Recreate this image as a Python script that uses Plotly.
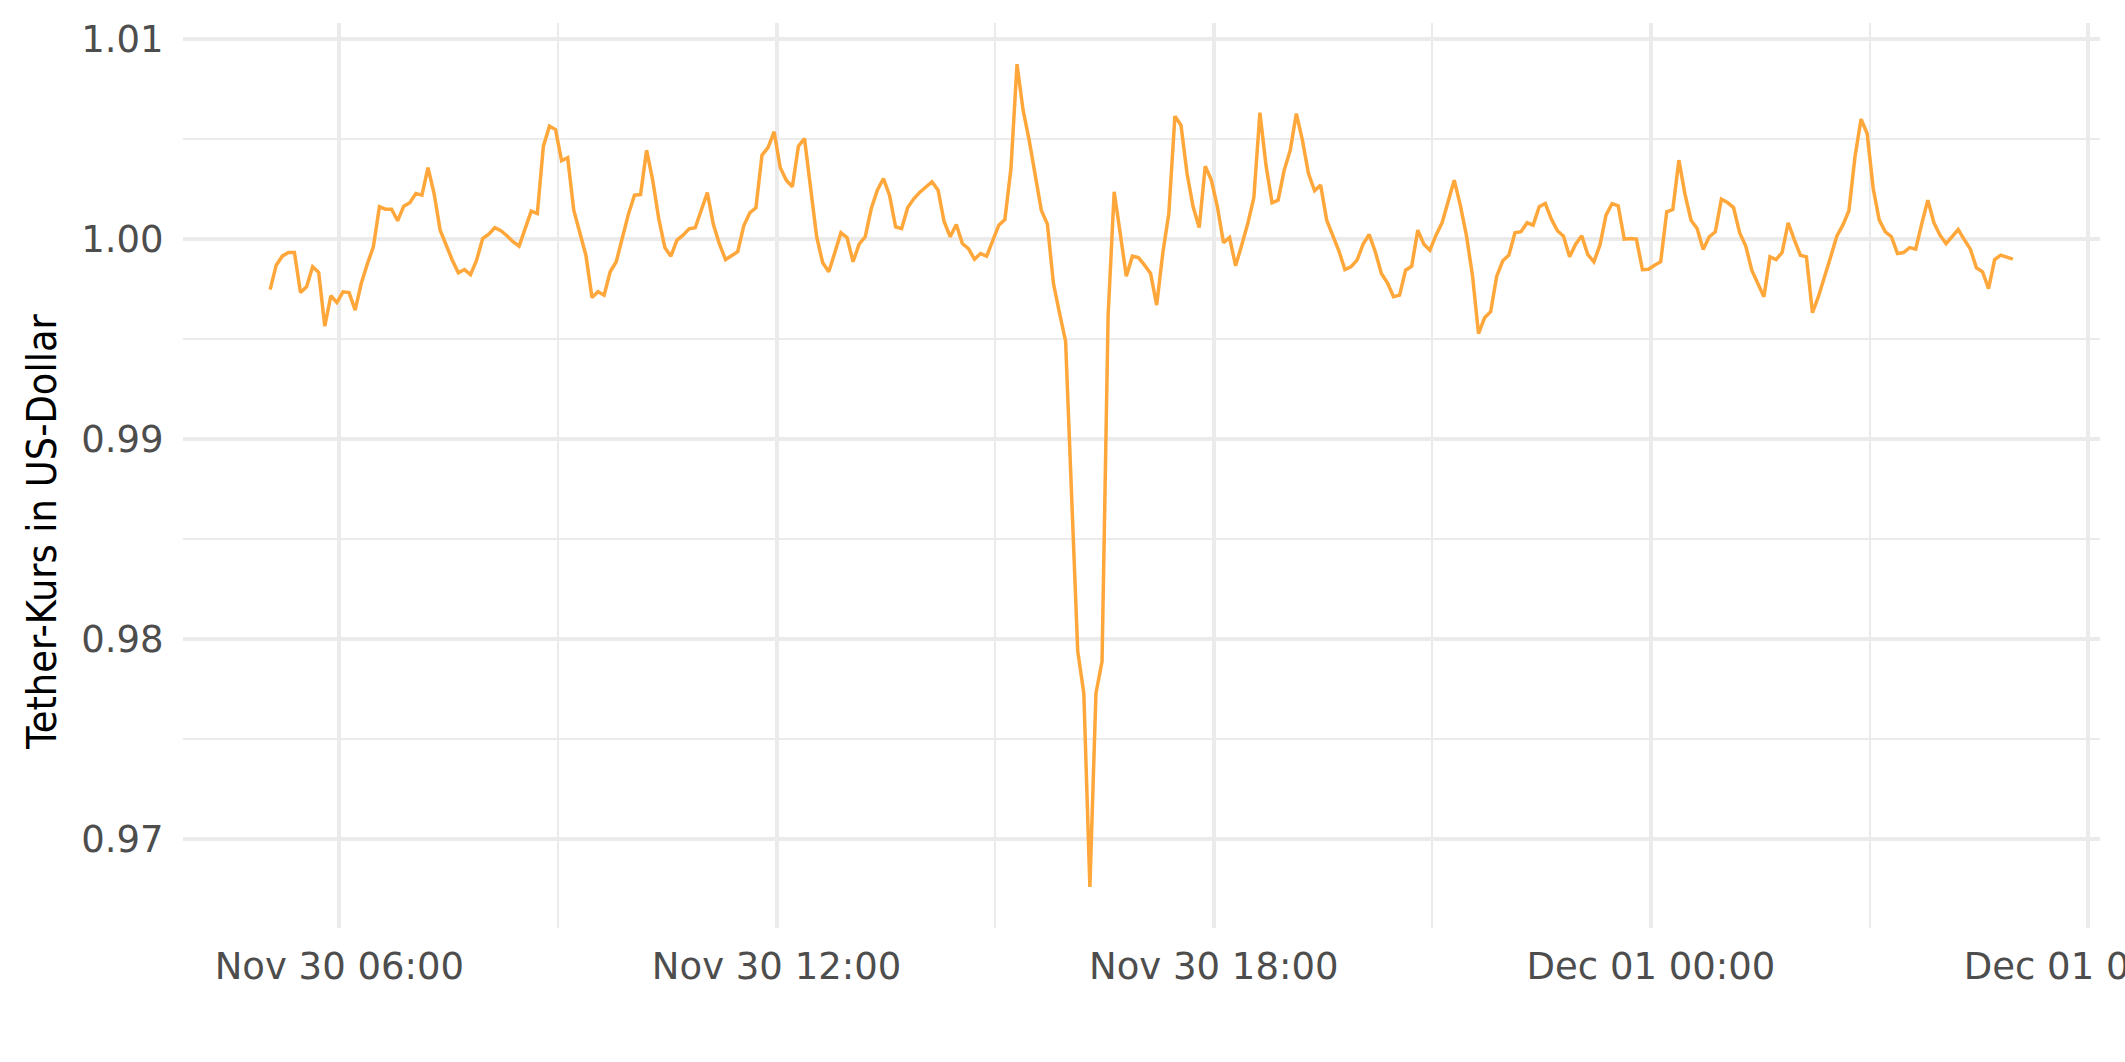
import pandas as pd
import plotly.graph_objects as go

# Tether price in USD, 5-minute samples, starting Nov 30 05:03 (4-hour blocks)
start_time = "2022-11-30 05:03"
step = "5min"

block_1 = [0.99748, 0.99870, 0.99915, 0.99933, 0.99933, 0.99733, 0.99762, 0.99862, 0.99833, 0.99565,
           0.99717, 0.99683, 0.99737, 0.99733, 0.99645, 0.99778, 0.99875, 0.99962, 1.00162, 1.00150,
           1.00150, 1.00092, 1.00165, 1.00182, 1.00228, 1.00220, 1.00358, 1.00228, 1.00045, 0.99970,
           0.99895, 0.99832, 0.99848, 0.99823, 0.99895, 1.00003, 1.00025, 1.00057, 1.00042, 1.00017,
           0.99987, 0.99965, 1.00048, 1.00140, 1.00128, 1.00465, 1.00565, 1.00548]
block_2 = [1.00392, 1.00407, 1.00145, 1.00037, 0.99920, 0.99708, 0.99737, 0.99720, 0.99837, 0.99887,
           1.00012, 1.00125, 1.00220, 1.00223, 1.00445, 1.00295, 1.00103, 0.99958, 0.99915, 0.99995,
           1.00020, 1.00052, 1.00057, 1.00150, 1.00233, 1.00073, 0.99975, 0.99898, 0.99917, 0.99937,
           1.00067, 1.00132, 1.00157, 1.00420, 1.00458, 1.00537, 1.00358, 1.00295, 1.00262, 1.00465,
           1.00503, 1.00262, 1.00012, 0.99882, 0.99837, 0.99933, 1.00032, 1.00008]
block_3 = [0.99887, 0.99975, 1.00012, 1.00153, 1.00245, 1.00303, 1.00220, 1.00062, 1.00053, 1.00158,
           1.00202, 1.00235, 1.00262, 1.00287, 1.00245, 1.00087, 1.00012, 1.00073, 0.99978, 0.99953,
           0.99900, 0.99928, 0.99915, 0.99995, 1.00070, 1.00098, 1.00353, 1.00875, 1.00645, 1.00495,
           1.00328, 1.00145, 1.00075, 0.99778, 0.99630, 0.99490, 0.98710, 0.97940, 0.97730, 0.96762,
           0.97730, 0.97888, 0.99617, 1.00237, 1.00028, 0.99815, 0.99915, 0.99908]
block_4 = [0.99870, 0.99828, 0.99670, 0.99928, 1.00128, 1.00615, 1.00570, 1.00328, 1.00162, 1.00058,
           1.00365, 1.00295, 1.00162, 0.99982, 1.00008, 0.99867, 0.99970, 1.00078, 1.00207, 1.00632,
           1.00370, 1.00182, 1.00195, 1.00345, 1.00445, 1.00628, 1.00495, 1.00328, 1.00242, 1.00270,
           1.00095, 1.00017, 0.99942, 0.99848, 0.99862, 0.99895, 0.99975, 1.00023, 0.99937, 0.99828,
           0.99782, 0.99712, 0.99720, 0.99845, 0.99865, 1.00045, 0.99975, 0.99945]
block_5 = [1.00020, 1.00082, 1.00187, 1.00295, 1.00170, 1.00020, 0.99820, 0.99528, 0.99607, 0.99637,
           0.99815, 0.99892, 0.99920, 1.00032, 1.00037, 1.00082, 1.00070, 1.00162, 1.00178, 1.00100,
           1.00042, 1.00015, 0.99912, 0.99975, 1.00017, 0.99923, 0.99887, 0.99970, 1.00120, 1.00178,
           1.00167, 1.00000, 1.00003, 1.00000, 0.99848, 0.99850, 0.99870, 0.99887, 1.00137, 1.00148,
           1.00395, 1.00225, 1.00095, 1.00053, 0.99948, 1.00012, 1.00037, 1.00200]
block_6 = [1.00183, 1.00158, 1.00032, 0.99967, 0.99845, 0.99778, 0.99712, 0.99912, 0.99898, 0.99933,
           1.00082, 0.99998, 0.99920, 0.99912, 0.99632, 0.99715, 0.99807, 0.99912, 1.00015, 1.00070,
           1.00142, 1.00412, 1.00600, 1.00528, 1.00253, 1.00095, 1.00037, 1.00012, 0.99928, 0.99933,
           0.99958, 0.99950, 1.00078, 1.00195, 1.00082, 1.00020, 0.99978, 1.00012, 1.00048, 0.99998,
           0.99950, 0.99857, 0.99837, 0.99753, 0.99898, 0.99920, 0.99912, 0.99900]

prices = block_1 + block_2 + block_3 + block_4 + block_5 + block_6
times = pd.date_range(start=start_time, periods=len(prices), freq=step)

x_tick_vals = ["2022-11-30 06:00", "2022-11-30 12:00", "2022-11-30 18:00",
               "2022-12-01 00:00", "2022-12-01 06:00"]
y_tick_vals = [0.97, 0.98, 0.99, 1.00, 1.01]
y_title = "Tether-Kurs in US-Dollar"

# ggplot-like 5% expansion of the data range
t_span = times[-1] - times[0]
x_range = [times[0] - 0.05 * t_span, times[-1] + 0.05 * t_span]
v_span = max(prices) - min(prices)
y_range = [min(prices) - 0.05 * v_span, max(prices) + 0.05 * v_span]

fig = go.Figure()
fig.add_trace(go.Scatter(
    x=times, y=prices, mode="lines",
    line=dict(color="#FFA73A", width=3.5),
    showlegend=False, hoverinfo="x+y",
))

tick_font = dict(family="DejaVu Sans", size=37, color="#4D4D4D")
grid_major = "#EBEBEB"

fig.update_layout(
    width=2125, height=1062,
    margin=dict(l=183, r=25, t=23, b=134),
    paper_bgcolor="white", plot_bgcolor="white",
    xaxis=dict(
        type="date", range=x_range,
        tickvals=x_tick_vals, tickformat="%b %d %H:%M",
        tickfont=tick_font, ticklabeloverflow="allow",
        ticks="outside", ticklen=6, tickcolor="rgba(0,0,0,0)",
        showgrid=True, gridcolor=grid_major, gridwidth=4.3,
        zeroline=False, showline=False, automargin=False,
        minor=dict(dtick=3 * 3600 * 1000, tick0="2022-11-30 00:00",
                   showgrid=True, gridcolor=grid_major, gridwidth=2.2, ticks=""),
    ),
    yaxis=dict(
        range=y_range, tickvals=y_tick_vals, tickformat=".2f",
        tickfont=tick_font,
        ticks="outside", ticklen=11, tickcolor="rgba(0,0,0,0)",
        showgrid=True, gridcolor=grid_major, gridwidth=4.3,
        zeroline=False, showline=False, automargin=False,
        minor=dict(dtick=0.005, tick0=0.965,
                   showgrid=True, gridcolor=grid_major, gridwidth=2.2, ticks=""),
    ),
    annotations=[dict(
        text=y_title, textangle=-90, showarrow=False,
        xref="paper", yref="paper", x=-0.0736, y=0.4376,
        xanchor="center", yanchor="middle",
        font=dict(family="Liberation Sans Narrow, DejaVu Sans Condensed, Open Sans", size=41, color="black"),
    )],
)

fig.write_html(
    "out.html",
    config={"displayModeBar": False},
    post_script="document.body.style.margin='0';document.body.style.overflow='hidden';",
)
